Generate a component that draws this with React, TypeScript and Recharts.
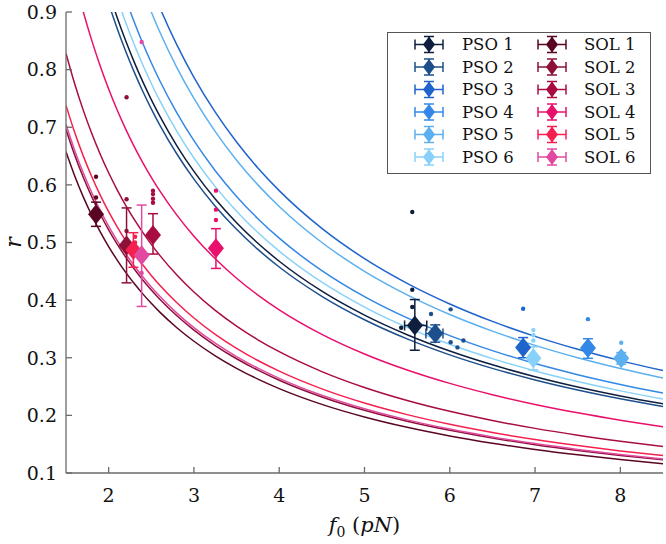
import * as React from 'react';
import { ComposedChart, Line, Scatter, ErrorBar, XAxis, YAxis, Label } from 'recharts';

const PSO_NAMES = ['PSO 1', 'PSO 2', 'PSO 3', 'PSO 4', 'PSO 5', 'PSO 6'];
const SOL_NAMES = ['SOL 1', 'SOL 2', 'SOL 3', 'SOL 4', 'SOL 5', 'SOL 6'];
const PSO_COLORS = ['#0e1f3d', '#1d4f8c', '#1f64cc', '#3388e6', '#5cb0f0', '#88d2fa'];
const SOL_COLORS = ['#5a0622', '#8c1038', '#a80c40', '#e8106a', '#f5204f', '#e04aa0'];

// fitted r = k / f0, k
const PSO_FIT = [1.87, 1.83, 2.36, 2.03, 2.25, 1.94];
const SOL_FIT = [0.986, 1.044, 1.242, 1.533, 1.107, 1.057];
const FIT_F = [1.5, 1.6, 1.7, 1.8, 1.9, 2.0, 2.1, 2.2, 2.3, 2.4, 2.5, 2.6, 2.8, 3.0, 3.25, 3.5, 3.75, 4, 4.5, 5, 5.5, 6, 6.5, 7, 7.5, 8, 8.5];

// means with error bars [minus, plus]
const PSO_F = [5.59, 5.83, 6.86, 7.62, 8.01, 6.98];
const PSO_R = [0.356, 0.342, 0.318, 0.317, 0.299, 0.299];
const PSO_F_ERR = [[0.12, 0.14], [0.11, 0.09], [0.02, 0.02], [0.02, 0.02], [0.02, 0.02], [0.02, 0.02]];
const PSO_R_ERR = [[0.043, 0.045], [0.015, 0.015], [0.018, 0.017], [0.018, 0.016], [0.01, 0.01], [0.02, 0.02]];

const SOL_F = [1.852, 2.21, 2.52, 3.258, 2.29, 2.387];
const SOL_R = [0.549, 0.495, 0.513, 0.49, 0.487, 0.478];
const SOL_F_ERR = [[0.03, 0.03], [0.03, 0.03], [0.03, 0.03], [0.03, 0.03], [0.03, 0.03], [0.03, 0.03]];
const SOL_R_ERR = [[0.021, 0.021], [0.065, 0.065], [0.033, 0.037], [0.035, 0.034], [0.03, 0.03], [0.089, 0.087]];

// individual runs [f0, r]
const PSO_RUNS = [
  [[5.56, 0.553], [5.56, 0.418], [5.56, 0.388], [5.43, 0.352]],
  [[5.78, 0.376], [6.01, 0.384], [6.09, 0.318], [6.16, 0.33], [6.01, 0.327]],
  [[6.86, 0.385]],
  [[7.62, 0.367]],
  [[8.01, 0.326]],
  [[6.98, 0.348], [6.98, 0.339], [6.98, 0.33]],
];
const SOL_RUNS = [
  [[1.852, 0.614], [1.852, 0.578]],
  [[2.21, 0.752], [2.21, 0.575], [2.21, 0.52]],
  [[2.52, 0.59], [2.52, 0.584], [2.52, 0.576], [2.52, 0.569]],
  [[3.258, 0.59], [3.258, 0.557], [3.258, 0.539]],
  [[2.31, 0.51], [2.31, 0.5]],
  [[2.387, 0.848], [2.387, 0.447]],
];

const X_TICKS = [2, 3, 4, 5, 6, 7, 8];
const Y_TICKS = [0.1, 0.2, 0.3, 0.4, 0.5, 0.6, 0.7, 0.8, 0.9];

const FONT = '"DejaVu Serif", serif';
const AXIS = '#6a6a6a';

type Group = {
  name: string;
  color: string;
  fit: number;
  f: number;
  r: number;
  fErr: number[];
  rErr: number[];
  runs: number[][];
};

const groups: Group[] = [
  ...PSO_NAMES.map((name, i) => ({
    name, color: PSO_COLORS[i], fit: PSO_FIT[i], f: PSO_F[i], r: PSO_R[i],
    fErr: PSO_F_ERR[i], rErr: PSO_R_ERR[i], runs: PSO_RUNS[i],
  })),
  ...SOL_NAMES.map((name, i) => ({
    name, color: SOL_COLORS[i], fit: SOL_FIT[i], f: SOL_F[i], r: SOL_R[i],
    fErr: SOL_F_ERR[i], rErr: SOL_R_ERR[i], runs: SOL_RUNS[i],
  })),
];

const Diamond = (props: any) => {
  const { cx, cy, fill } = props;
  if (cx == null || cy == null) return null;
  return <polygon points={`${cx},${cy - 10} ${cx + 8},${cy} ${cx},${cy + 10} ${cx - 8},${cy}`} fill={fill} />;
};

const Dot = (props: any) => {
  const { cx, cy, fill } = props;
  if (cx == null || cy == null) return null;
  return <circle cx={cx} cy={cy} r={2.2} fill={fill} />;
};

const XTick = (props: any) => {
  const { x, y, payload } = props;
  return (
    <text x={x} y={y} dy="0.9em" textAnchor="middle" fontSize={19} fill="#111" fontFamily={FONT}>
      {payload.value}
    </text>
  );
};

const YTick = (props: any) => {
  const { x, y, payload } = props;
  return (
    <text x={x} y={y} dy="0.36em" textAnchor="end" fontSize={19} fill="#111" fontFamily={FONT}>
      {Number(payload.value).toFixed(1)}
    </text>
  );
};

const LegendIcon = ({ x, y, color }: { x: number; y: number; color: string }) => (
  <g stroke={color} strokeWidth={1.5}>
    <line x1={x - 14} y1={y} x2={x + 14} y2={y} />
    <line x1={x - 14} y1={y - 5} x2={x - 14} y2={y + 5} />
    <line x1={x + 14} y1={y - 5} x2={x + 14} y2={y + 5} />
    <line x1={x} y1={y - 8} x2={x} y2={y + 8} />
    <line x1={x - 5} y1={y - 8} x2={x + 5} y2={y - 8} />
    <line x1={x - 5} y1={y + 8} x2={x + 5} y2={y + 8} />
    <polygon points={`${x},${y - 8} ${x + 6},${y} ${x},${y + 8} ${x - 6},${y}`} fill={color} stroke="none" />
  </g>
);

const LegendBox = () => (
  <svg width={264} height={142} style={{ position: 'absolute', left: 387, top: 32, fontFamily: FONT }}>
    <rect x={0.5} y={0.5} width={263} height={141} fill="#fff" stroke="#555" strokeWidth={1} />
    {PSO_NAMES.map((name, i) => (
      <g key={name}>
        <LegendIcon x={42} y={12.5 + i * 22.5} color={PSO_COLORS[i]} />
        <text x={75} y={12.5 + i * 22.5} dy="0.36em" fontSize={16.5} fill="#111" fontFamily={FONT}>{name}</text>
      </g>
    ))}
    {SOL_NAMES.map((name, i) => (
      <g key={name}>
        <LegendIcon x={165} y={12.5 + i * 22.5} color={SOL_COLORS[i]} />
        <text x={197} y={12.5 + i * 22.5} dy="0.36em" fontSize={16.5} fill="#111" fontFamily={FONT}>{name}</text>
      </g>
    ))}
  </svg>
);

const XTitle = (props: any) => {
  const { x, y, width } = props.viewBox;
  return (
    <text x={x + width / 2} y={y + 59} textAnchor="middle" fontSize={21} fill="#111" fontFamily={FONT}>
      <tspan fontStyle="italic">f</tspan>
      <tspan fontSize={14} dy={5}>0</tspan>
      <tspan dy={-5}> (</tspan>
      <tspan fontStyle="italic">pN</tspan>
      <tspan>)</tspan>
    </text>
  );
};

const YTitle = (props: any) => {
  const { y, height } = props.viewBox;
  return (
    <text x={0} y={0} transform={`translate(21, ${y + height / 2}) rotate(-90)`} textAnchor="middle"
      fontSize={22} fontStyle="italic" fill="#111" fontFamily={FONT}>r</text>
  );
};

export default function App() {
  return (
    <div style={{ position: 'absolute', left: 0, top: 0, width: 666, height: 544, background: '#fff', fontFamily: FONT }}>
      <ComposedChart width={666} height={544} margin={{ top: 12, right: 3, left: 0, bottom: 0 }}
        style={{ fontFamily: FONT }}>
        <XAxis xAxisId="b" type="number" dataKey="f" domain={[1.5, 8.5]} ticks={X_TICKS} allowDataOverflow
          height={71} tickSize={-6} tickMargin={18} stroke={AXIS} strokeWidth={1.3}
          tick={XTick}>
          <Label content={XTitle} />
        </XAxis>
        <XAxis xAxisId="t" orientation="top" type="number" domain={[1.5, 8.5]} ticks={X_TICKS} allowDataOverflow
          height={0} tickSize={-6} tickFormatter={() => ''} stroke={AXIS} strokeWidth={1.3} />
        <YAxis yAxisId="l" type="number" domain={[0.1, 0.9]} ticks={Y_TICKS} allowDataOverflow
          width={66} tickSize={-6} tickMargin={15} stroke={AXIS} strokeWidth={1.3}
          tick={YTick}>
          <Label content={YTitle} />
        </YAxis>
        <YAxis yAxisId="r" orientation="right" type="number" domain={[0.1, 0.9]} ticks={Y_TICKS} allowDataOverflow
          width={0} tickSize={-6} tickFormatter={() => ''} stroke={AXIS} strokeWidth={1.3} />

        {groups.map((g) => (
          <Line key={'fit-' + g.name} xAxisId="b" yAxisId="l" type="monotone"
            data={FIT_F.map((f) => ({ f, r: g.fit / f }))} dataKey="r"
            stroke={g.color} strokeWidth={1.5} dot={false} activeDot={false} isAnimationActive={false} />
        ))}
        {groups.map((g) => (
          <Scatter key={'runs-' + g.name} xAxisId="b" yAxisId="l"
            data={g.runs.map(([f, r]) => ({ f, r }))} dataKey="r"
            fill={g.color} shape={Dot} isAnimationActive={false} />
        ))}
        {groups.map((g) => (
          <Scatter key={'mean-' + g.name} xAxisId="b" yAxisId="l"
            data={[{ f: g.f, r: g.r, ex: g.fErr, ey: g.rErr }]} dataKey="r"
            fill={g.color} shape={Diamond} isAnimationActive={false}>
            <ErrorBar dataKey="ey" direction="y" width={5} stroke={g.color} strokeWidth={1.5} />
            <ErrorBar dataKey="ex" direction="x" width={5} stroke={g.color} strokeWidth={1.5} />
          </Scatter>
        ))}
      </ComposedChart>
      <LegendBox />
    </div>
  );
}
